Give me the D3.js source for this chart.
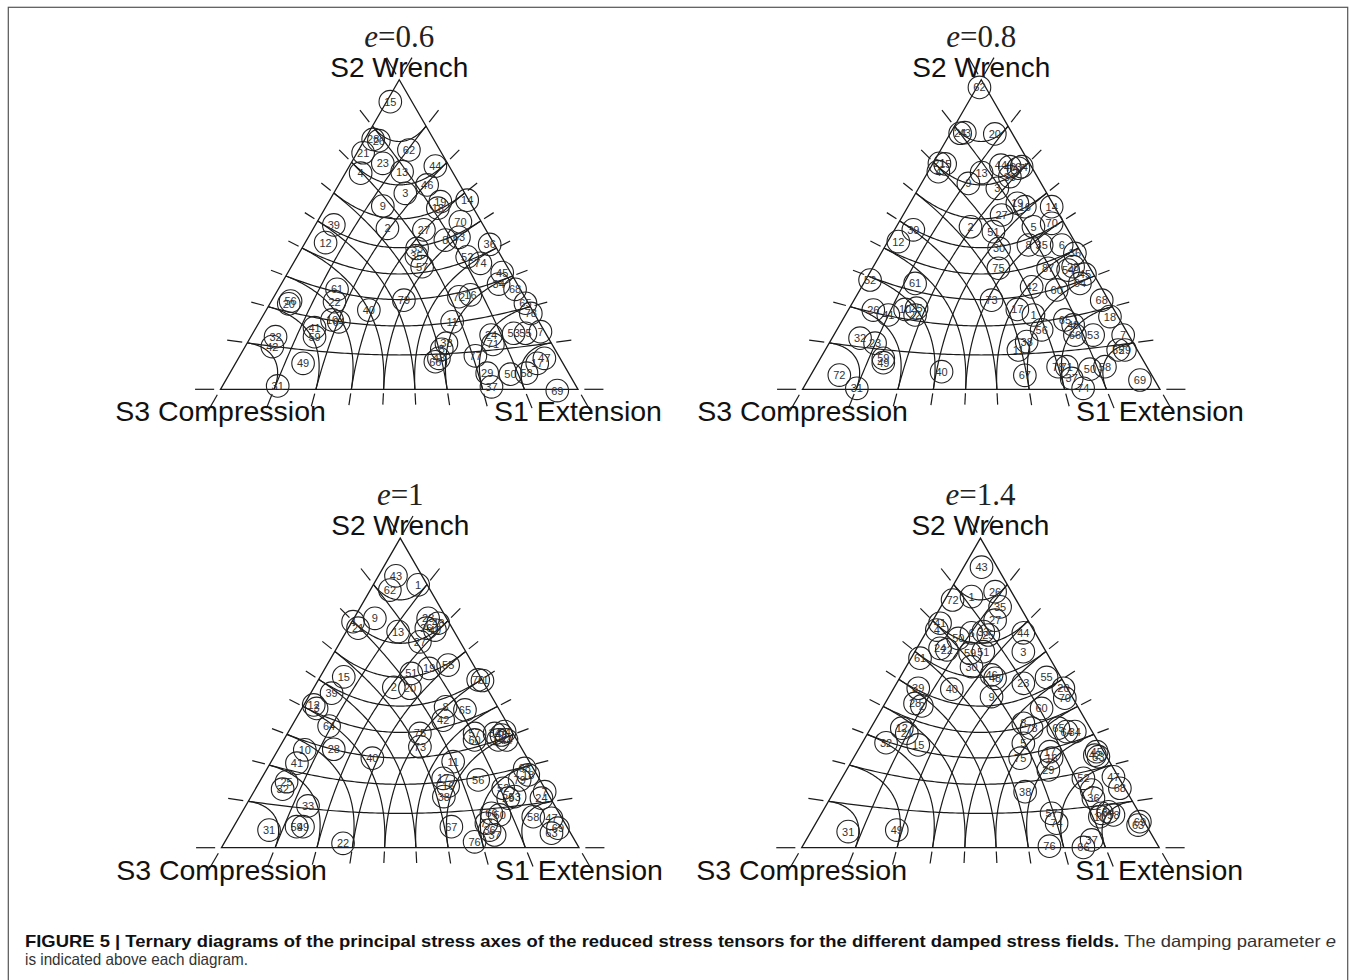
<!DOCTYPE html>
<html>
<head>
<meta charset="utf-8">
<script src="https://cdn.jsdelivr.net/npm/d3@7"></script>
<style>
  body { margin: 0; background: #fff; }
  svg { display: block; }
</style>
</head>
<body>
<div id="chart"></div>
<script>
// damping parameter shown above each ternary diagram
const dampingValues = ["0.6", "0.8", "1", "1.4"];
const vertexLabels = { top: "S2 Wrench", left: "S3 Compression", right: "S1 Extension" };
// plunge contours (degrees) and tick positions along each edge
const plungeLevels = [10, 20, 30, 40, 50, 60, 70, 80];
const edgeTicks = [0, 10, 20, 30, 40, 50, 60, 70, 80, 90];

// [id, position along base from S3 corner (%), height above base (%)]
const pointsE06 = [[15,47.5,92.9],[28,42.7,80.7],[26,44.3,80.3],[21,39.9,76.4],[23,45.4,73.0],[62,52.7,77.3],[13,50.8,70.3],[44,60.1,72.1],[4,39.2,69.8],[3,51.7,63.3],[46,57.8,66.0],[19,61.5,60.6],[18,60.8,58.5],[14,69.0,61.1],[9,45.4,59.2],[70,67.1,54.1],[39,31.7,53.1],[12,29.4,47.4],[2,46.7,52.0],[27,56.9,51.5],[8,62.9,48.2],[63,66.7,49.1],[36,75.3,46.8],[33,55.0,45.5],[35,54.8,43.1],[57,56.4,39.6],[52,69.0,42.8],[74,72.7,40.7],[45,78.8,37.7],[34,77.8,34.0],[68,82.4,32.3],[65,85.3,27.8],[78,86.8,24.5],[61,32.6,32.3],[56,19.6,28.5],[20,19.1,27.6],[22,31.9,28.3],[40,41.5,25.6],[79,51.3,28.8],[10,31.2,22.4],[64,33.1,21.8],[72,66.7,29.9],[16,69.9,30.5],[11,64.8,21.8],[41,26.3,19.9],[59,26.3,17.0],[32,15.4,17.0],[42,14.5,13.8],[49,23.1,8.4],[31,16.0,1.1],[38,63.2,14.9],[5,61.9,12.9],[66,60.1,8.9],[48,61.1,10.0],[24,75.7,17.5],[71,76.2,14.5],[53,82.0,18.1],[55,85.3,18.1],[7,89.5,18.6],[77,71.3,10.8],[29,74.6,5.2],[37,75.8,0.8],[50,81.1,4.9],[58,85.6,5.2],[47,90.6,10.0],[17,88.6,8.4],[69,94.2,-0.4]];

const pointsE08 = [[62,49.5,97.5],[24,44.1,82.7],[43,45.4,82.9],[20,53.8,82.5],[21,38.3,73.0],[15,39.9,72.8],[4,38.0,70.3],[9,46.4,66.5],[13,50.1,70.0],[44,55.5,72.4],[46,58.0,71.9],[47,60.4,71.4],[34,61.3,71.9],[33,58.0,68.7],[3,54.5,64.9],[19,60.1,60.1],[16,62.2,59.0],[14,69.7,59.0],[2,47.0,52.5],[27,55.7,56.3],[51,53.4,50.9],[5,64.6,52.5],[70,69.7,53.6],[39,31.0,51.5],[12,26.8,47.7],[30,55.0,45.5],[8,63.2,46.6],[35,66.9,46.6],[6,72.5,46.6],[36,76.2,43.9],[75,54.8,39.1],[87,68.7,39.1],[54,74.3,38.5],[28,75.7,39.6],[45,79.0,37.2],[64,77.6,34.2],[52,18.9,35.3],[61,31.5,34.2],[42,64.1,33.1],[60,71.1,32.1],[73,52.9,28.8],[68,83.7,28.8],[18,86.0,23.5],[26,19.8,25.6],[41,24.0,24.0],[10,28.7,25.8],[25,31.9,26.2],[22,31.5,24.0],[17,60.1,25.8],[1,64.6,24.0],[65,73.4,22.4],[48,75.7,20.8],[66,76.2,17.5],[56,66.9,19.2],[53,81.3,17.5],[7,89.7,17.5],[32,16.1,16.5],[23,20.3,14.9],[59,22.6,10.0],[49,22.6,8.6],[38,62.7,15.4],[11,60.4,12.7],[55,88.3,12.7],[29,90.2,12.7],[72,10.3,4.6],[31,15.2,0.3],[40,38.9,5.7],[67,62.2,4.5],[78,71.5,7.3],[71,73.9,7.3],[37,75.3,3.5],[50,80.4,6.5],[58,84.6,7.3],[74,78.5,0.3],[69,94.4,3.0]];

const pointsE1 = [[43,48.8,87.8],[62,47.1,83.2],[1,55.0,84.9],[9,42.9,74.1],[4,36.8,73.0],[21,38.2,70.9],[13,49.4,69.8],[23,57.8,74.1],[26,57.3,70.9],[48,60.6,72.5],[49,59.7,70.3],[27,55.5,66.5],[51,53.1,56.3],[19,58.1,57.9],[55,63.4,59.0],[2,48.2,51.8],[20,52.7,51.5],[15,34.2,55.2],[39,30.8,49.9],[12,25.8,46.1],[3,26.6,45.0],[64,30.1,39.3],[70,71.8,54.2],[71,73.0,54.0],[8,62.7,45.5],[42,62.0,41.2],[65,68.1,44.5],[75,55.5,36.9],[73,55.5,32.6],[57,70.8,36.9],[60,70.8,34.8],[34,76.4,36.9],[45,78.3,36.4],[54,79.2,37.5],[14,77.4,34.8],[44,79.7,34.8],[10,23.3,31.6],[28,31.4,31.8],[40,42.2,28.9],[41,21.1,27.3],[11,64.8,27.8],[25,18.2,21.3],[32,17.1,18.9],[17,62.0,22.4],[16,63.4,19.9],[38,62.2,16.5],[56,71.8,21.9],[68,84.8,25.6],[18,85.8,23.5],[79,83.4,21.9],[52,78.8,19.2],[53,82.0,16.5],[29,80.2,16.0],[7,90.4,18.1],[24,89.5,16.0],[33,24.2,13.5],[58,87.2,10.0],[47,92.3,9.5],[69,94.1,6.3],[63,92.3,4.7],[31,13.3,5.7],[59,21.0,6.8],[49,22.8,6.8],[22,34.0,1.4],[67,64.3,6.8],[76,70.8,1.9],[66,75.5,11.1],[50,77.8,10.6],[37,76.4,4.1],[77,74.1,7.9],[36,75.0,5.7]];

const pointsE14 = [[43,50.3,90.6],[72,42.2,80.0],[1,47.5,81.1],[26,54.1,82.7],[35,55.5,77.8],[27,54.1,73.5],[41,38.7,72.5],[4,37.8,70.3],[50,43.8,67.6],[6,47.5,69.4],[33,50.8,69.8],[25,52.2,68.7],[44,62.0,69.4],[24,38.7,64.4],[22,40.6,63.9],[59,47.1,62.8],[51,50.8,63.3],[3,62.0,63.3],[61,33.1,61.2],[30,47.5,58.5],[46,53.1,55.8],[48,54.1,54.7],[55,68.5,55.0],[23,62.0,53.1],[20,73.2,51.5],[70,73.6,48.3],[39,32.6,51.5],[40,42.0,51.2],[9,53.1,48.8],[60,67.1,45.0],[28,31.7,46.6],[2,33.6,45.8],[12,28.0,38.6],[21,29.4,37.0],[32,23.6,33.9],[15,32.6,33.2],[8,62.0,40.2],[78,64.3,38.6],[65,71.8,38.6],[64,74.1,37.5],[34,76.4,37.5],[5,62.0,33.7],[75,61.1,28.9],[17,69.4,31.0],[16,69.9,28.9],[29,69.0,25.1],[45,82.5,31.0],[53,83.0,29.4],[42,82.0,29.9],[47,87.2,22.9],[68,89.0,19.2],[52,78.8,22.4],[7,81.1,18.6],[36,81.6,16.0],[38,62.5,18.1],[56,83.9,11.1],[58,87.2,10.6],[54,85.8,11.6],[10,83.4,10.0],[57,69.9,11.1],[74,71.3,7.9],[76,69.3,0.5],[37,81.1,2.5],[66,78.8,0.1],[69,94.6,8.4],[63,94.1,7.3],[31,13.0,5.2],[49,26.6,5.7]];

const captionBold = "FIGURE 5 | Ternary diagrams of the principal stress axes of the reduced stress tensors for the different damped stress fields.";
const captionRest = " The damping parameter ";
const captionLine2 = "is indicated above each diagram.";

const W = 1356, H = 980;
const side = 357.5, triH = side * Math.sqrt(3) / 2;
const panels = [
  { e: dampingValues[0], pts: pointsE06, x0: 220.5, y0: 389.3 },
  { e: dampingValues[1], pts: pointsE08, x0: 802.5, y0: 389.3 },
  { e: dampingValues[2], pts: pointsE1,  x0: 221.5, y0: 847.7 },
  { e: dampingValues[3], pts: pointsE14, x0: 801.7, y0: 847.7 }
];

const svg = d3.select("#chart").append("svg")
  .attr("width", W).attr("height", H)
  .attr("viewBox", `0 0 ${W} ${H}`);

// outer frame
svg.append("rect")
  .attr("x", 8.3).attr("y", 7.3)
  .attr("width", 1339.4).attr("height", 990)
  .attr("fill", "none").attr("stroke", "#555").attr("stroke-width", 1.2);

// gnomonic (Frohlich) projection of a [T, B, P] direction to base% / height%
const rad = d => d * Math.PI / 180;
const HMAX = Math.sqrt(1.5), VMIN = -Math.SQRT1_2, VMAX = Math.SQRT2;
function project(vec) {
  const [t, b, p] = vec;
  const s = (t + b + p) / Math.sqrt(3);
  const h = (t - p) / Math.SQRT2 / s;
  const v = (2 * b - t - p) / Math.sqrt(6) / s;
  return [(h + HMAX) / (2 * HMAX) * 100, (v - VMIN) / (VMAX - VMIN) * 100];
}

function plungeCurve(axis, deg) {
  const out = [];
  for (let a = 0; a <= 90; a += 1) {
    const vec = [0, 0, 0];
    vec[axis] = Math.sin(rad(deg));
    vec[(axis + 1) % 3] = Math.cos(rad(deg)) * Math.cos(rad(a));
    vec[(axis + 2) % 3] = Math.cos(rad(deg)) * Math.sin(rad(a));
    out.push(project(vec));
  }
  return out;
}

// edges: [axis a, axis b, opposite axis]; T=0, B=1, P=2
const edges = [[0, 2, 1], [1, 2, 0], [0, 1, 2]];
function tickSegment(edge, deg) {
  const [a, b, o] = edge;
  const seg = [];
  [1.0, 3.8].forEach(th => {
    const vec = [0, 0, 0];
    vec[a] = Math.cos(rad(th)) * Math.sin(rad(deg));
    vec[b] = Math.cos(rad(th)) * Math.cos(rad(deg));
    vec[o] = -Math.sin(rad(th));
    seg.push(project(vec));
  });
  return seg;
}

const lineColor = "#1a1a1a";

panels.forEach(pn => {
  const x = d3.scaleLinear().domain([0, 100]).range([pn.x0, pn.x0 + side]);
  const y = d3.scaleLinear().domain([0, 100]).range([pn.y0, pn.y0 - triH]);
  const line = d3.line().x(d => x(d[0])).y(d => y(d[1]));
  const g = svg.append("g").attr("class", "panel");

  // triangle
  g.append("path")
    .attr("d", line([project([0, 0, 1]), project([1, 0, 0]), project([0, 1, 0])]) + "Z")
    .attr("fill", "none").attr("stroke", lineColor).attr("stroke-width", 1.3);

  // plunge contours for each principal axis
  [0, 1, 2].forEach(axis => {
    g.selectAll(null).data(plungeLevels).enter().append("path")
      .attr("d", d => line(plungeCurve(axis, d)))
      .attr("fill", "none").attr("stroke", lineColor).attr("stroke-width", 1.2);
  });

  // ticks outside the edges
  edges.forEach(edge => {
    g.selectAll(null).data(edgeTicks).enter().append("path")
      .attr("d", d => line(tickSegment(edge, d)))
      .attr("fill", "none").attr("stroke", lineColor).attr("stroke-width", 1.2);
  });

  // vertex labels
  const apex = project([0, 1, 0]), left = project([0, 0, 1]), right = project([1, 0, 0]);
  const title = g.append("text")
    .attr("x", x(apex[0])).attr("y", y(apex[1]) - 33)
    .attr("text-anchor", "middle")
    .attr("font-family", "'Liberation Serif', 'Times New Roman', serif")
    .attr("font-size", 31).attr("fill", "#222");
  title.append("tspan").attr("font-style", "italic").text("e");
  title.append("tspan").text("=" + pn.e);

  g.append("text")
    .attr("x", x(apex[0])).attr("y", y(apex[1]) - 3)
    .attr("text-anchor", "middle")
    .attr("font-family", "'Liberation Sans', Arial, sans-serif")
    .attr("font-size", 28).attr("fill", "#111")
    .text(vertexLabels.top);
  g.append("text")
    .attr("x", x(left[0])).attr("y", y(left[1]) + 32)
    .attr("text-anchor", "middle")
    .attr("font-family", "'Liberation Sans', Arial, sans-serif")
    .attr("font-size", 28.5).attr("fill", "#111")
    .text(vertexLabels.left);
  g.append("text")
    .attr("x", x(right[0])).attr("y", y(right[1]) + 32)
    .attr("text-anchor", "middle")
    .attr("font-family", "'Liberation Sans', Arial, sans-serif")
    .attr("font-size", 28.5).attr("fill", "#111")
    .text(vertexLabels.right);

  // numbered stress tensors
  const pt = g.selectAll("g.pt").data(pn.pts).enter().append("g")
    .attr("class", "pt")
    .attr("transform", d => `translate(${x(d[1])},${y(d[2])})`);
  pt.append("circle")
    .attr("r", 11.3)
    .attr("fill", "none").attr("stroke", "#222").attr("stroke-width", 1.1);
  pt.append("text")
    .attr("text-anchor", "middle").attr("dy", "0.36em")
    .attr("font-family", "'Liberation Sans', Arial, sans-serif")
    .attr("font-size", 11).attr("fill", "#333")
    .text(d => d[0]);
});

// caption
const cap = svg.append("text")
  .attr("x", 25).attr("y", 947)
  .attr("font-family", "'Liberation Sans Narrow', 'Liberation Sans', Arial, sans-serif")
  .attr("font-size", 16.5)
  .attr("textLength", 1311).attr("lengthAdjust", "spacingAndGlyphs");
cap.append("tspan").attr("font-weight", "bold").attr("fill", "#111").text(captionBold);
cap.append("tspan").attr("fill", "#333").text(captionRest);
cap.append("tspan").attr("fill", "#333").attr("font-style", "italic").text("e");

svg.append("text")
  .attr("x", 25).attr("y", 965)
  .attr("font-family", "'Liberation Sans Narrow', 'Liberation Sans', Arial, sans-serif")
  .attr("font-size", 16.5).attr("fill", "#333")
  .attr("textLength", 223).attr("lengthAdjust", "spacingAndGlyphs")
  .text(captionLine2);
</script>
</body>
</html>
